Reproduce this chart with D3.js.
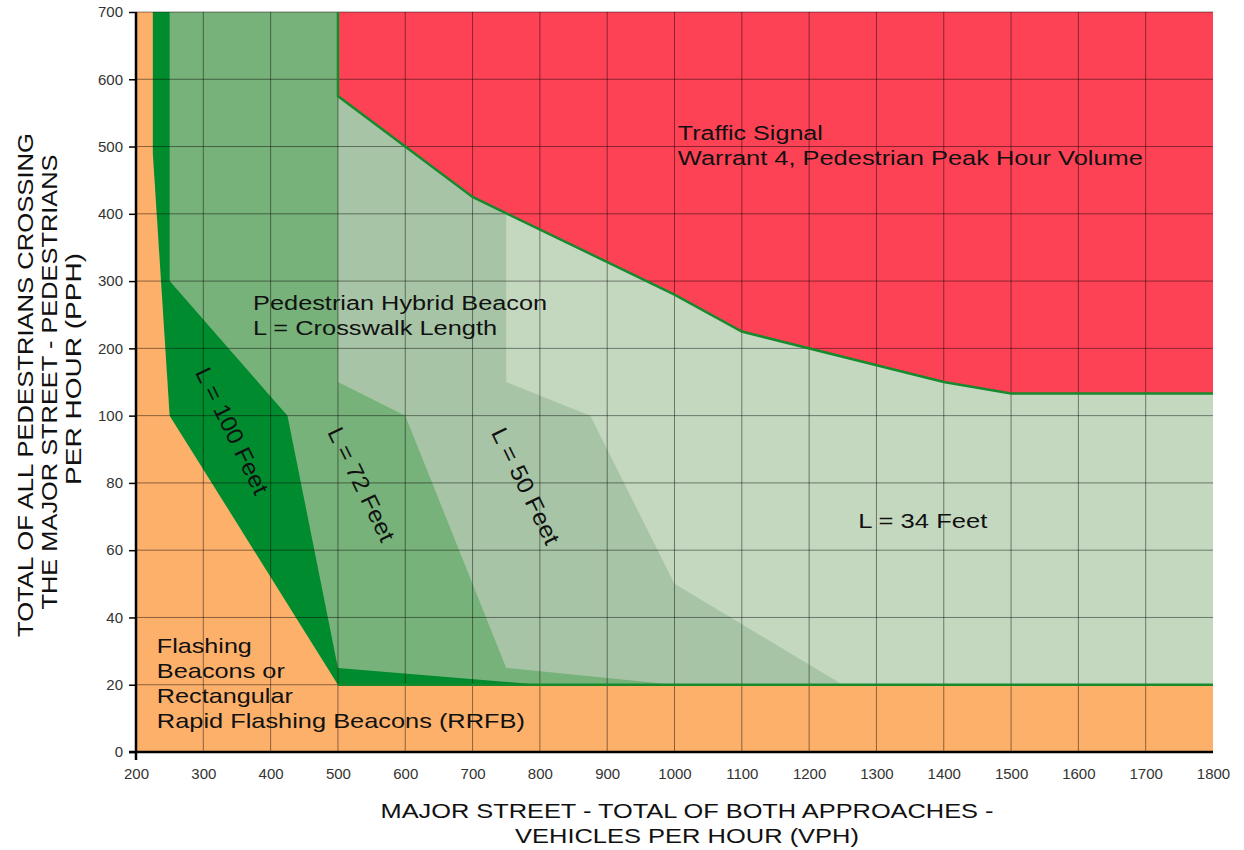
<!DOCTYPE html>
<html>
<head>
<meta charset="utf-8">
<script src="https://cdn.jsdelivr.net/npm/d3@7/dist/d3.min.js"></script>
<style>
  body { margin: 0; background: #fff; }
  svg { display: block; font-family: "Liberation Sans", Arial, sans-serif; }
</style>
</head>
<body>
<div id="chart"></div>
<script>
// Tick values
const vphTicks = [200, 300, 400, 500, 600, 700, 800, 900, 1000, 1100, 1200, 1300, 1400, 1500, 1600, 1700, 1800];
const pphTicks = [0, 20, 40, 60, 80, 100, 200, 300, 400, 500, 600, 700];

// Region outlines as [vph, pph] pairs
const plotArea = [[200, 0], [1800, 0], [1800, 700], [200, 700]];
const feet100 = [[225, 700], [225, 490], [250, 100], [500, 20], [1800, 20], [1800, 700]];
const feet72 = [[250, 700], [250, 300], [425, 100], [500, 25], [800, 20], [1800, 20], [1800, 700]];
const feet50 = [[500, 700], [500, 150], [600, 100], [750, 25], [1000, 20], [1800, 20], [1800, 700]];
const feet34 = [[750, 700], [750, 150], [875, 100], [1000, 50], [1250, 20], [1800, 20], [1800, 700]];
const signalEdge = [[500, 700], [500, 575], [700, 425], [1000, 280], [1100, 225], [1400, 150], [1500, 133], [1800, 133]];
const signalArea = signalEdge.concat([[1800, 700]]);
const minPedLine = [[500, 20], [1800, 20]];

const width = 1244, height = 850;
const margin = { top: 12, right: 31, bottom: 98, left: 136 };

const svg = d3.select("#chart").append("svg")
  .attr("width", width)
  .attr("height", height);

svg.append("rect").attr("width", width).attr("height", height).attr("fill", "#fff");

// x is linear; y is linear in two pieces (0-100 by 20s, 100-700 by 100s)
const x = d3.scaleLinear().domain([200, 1800]).range([margin.left, width - margin.right]);
const step = (height - margin.bottom - margin.top) / 11;
const y = d3.scaleLinear()
  .domain([0, 100, 700])
  .range([height - margin.bottom, height - margin.bottom - 5 * step, margin.top]);

const line = d3.line().x(d => x(d[0])).y(d => y(d[1]));

// Filled regions, back to front
const regions = [
  { pts: plotArea, fill: "#fdb06a" },
  { pts: feet100, fill: "#008b2f" },
  { pts: feet72, fill: "#77b27a" },
  { pts: feet50, fill: "#a7c5a6" },
  { pts: feet34, fill: "#c4d8bf" },
  { pts: signalArea, fill: "#fe4256" }
];

svg.append("g").selectAll("path")
  .data(regions)
  .join("path")
  .attr("d", d => line(d.pts) + "Z")
  .attr("fill", d => d.fill);

// Grid
const grid = svg.append("g").attr("stroke", "#000").attr("stroke-opacity", 0.45).attr("stroke-width", 1);
grid.selectAll("line.v")
  .data(vphTicks.filter(v => v > 200 && v < 1800))
  .join("line")
  .attr("x1", d => x(d)).attr("x2", d => x(d))
  .attr("y1", y(0)).attr("y2", y(700));
grid.selectAll("line.h")
  .data(pphTicks.filter(v => v > 0))
  .join("line")
  .attr("x1", x(200)).attr("x2", x(1800))
  .attr("y1", d => y(d)).attr("y2", d => y(d));

// Green boundary lines
svg.append("path")
  .attr("d", line(signalEdge))
  .attr("fill", "none")
  .attr("stroke", "#168a2c")
  .attr("stroke-width", 2.5);
svg.append("path")
  .attr("d", line(minPedLine))
  .attr("fill", "none")
  .attr("stroke", "#168a2c")
  .attr("stroke-width", 2.5);

// Axes
const yAxis = svg.append("g")
  .attr("transform", `translate(${margin.left},0)`)
  .call(d3.axisLeft(y).tickValues(pphTicks).tickFormat(d3.format("d")).tickSize(7).tickPadding(6));
yAxis.select(".domain").remove();
yAxis.selectAll(".tick line").attr("stroke", "#000").attr("stroke-width", 1.5);
yAxis.selectAll(".tick text").attr("fill", "#333").style("font-size", "15px");

const xAxis = svg.append("g")
  .attr("transform", `translate(0,${height - margin.bottom})`)
  .call(d3.axisBottom(x).tickValues(vphTicks).tickFormat(d3.format("d")).tickSize(0).tickPadding(16));
xAxis.select(".domain").remove();
xAxis.selectAll(".tick text").attr("fill", "#333").style("font-size", "15px");

svg.append("line")
  .attr("x1", x(200)).attr("x2", x(200))
  .attr("y1", y(700)).attr("y2", y(0) + 8)
  .attr("stroke", "#000").attr("stroke-width", 2.5);
svg.append("line")
  .attr("x1", x(200) - 7).attr("x2", x(1800))
  .attr("y1", y(0)).attr("y2", y(0))
  .attr("stroke", "#000").attr("stroke-width", 2.5);

// Horizontal annotations: [vph, pph] anchor of first baseline, lines, stretched widths
function block(vx, vy, lines, lengths, size) {
  const t = svg.append("g").attr("fill", "#111").style("font-size", size + "px");
  lines.forEach((s, i) => {
    t.append("text")
      .attr("x", x(vx))
      .attr("y", y(vy) + i * 25)
      .attr("textLength", lengths[i])
      .attr("lengthAdjust", "spacingAndGlyphs")
      .text(s);
  });
}

block(1005, 510, ["Traffic Signal", "Warrant 4, Pedestrian Peak Hour Volume"], [145, 465], 20);
block(374, 257, ["Pedestrian Hybrid Beacon", "L = Crosswalk Length"], [294, 244], 20);
block(1273, 66.6, ["L = 34 Feet"], [129], 21);
block(231, 29.4, ["Flashing", "Beacons or", "Rectangular", "Rapid Flashing Beacons (RRFB)"], [95, 128, 136, 368], 21);

// Rotated crosswalk length labels
const slanted = [
  { vph: 343, pph: 95.5, text: "L = 100 Feet", len: 138 },
  { vph: 535, pph: 79.6, text: "L = 72 Feet", len: 124 },
  { vph: 779, pph: 79.1, text: "L = 50 Feet", len: 127 }
];
svg.append("g").selectAll("text")
  .data(slanted)
  .join("text")
  .attr("transform", d => `translate(${x(d.vph)},${y(d.pph)}) rotate(64)`)
  .attr("text-anchor", "middle")
  .attr("dy", "0.35em")
  .attr("fill", "#111")
  .attr("textLength", d => d.len)
  .attr("lengthAdjust", "spacingAndGlyphs")
  .style("font-size", "23px")
  .text(d => d.text);

// Axis titles
const yTitle = [
  { text: "TOTAL OF ALL PEDESTRIANS CROSSING", bx: 33, cy: 385, len: 504 },
  { text: "THE MAJOR STREET - PEDESTRIANS", bx: 57, cy: 382, len: 455 },
  { text: "PER HOUR (PPH)", bx: 81, cy: 369, len: 232 }
];
svg.append("g").selectAll("text")
  .data(yTitle)
  .join("text")
  .attr("transform", d => `translate(${d.bx},${d.cy}) rotate(-90)`)
  .attr("text-anchor", "middle")
  .attr("fill", "#111")
  .attr("textLength", d => d.len)
  .attr("lengthAdjust", "spacingAndGlyphs")
  .style("font-size", "22px")
  .text(d => d.text);

const xTitle = [
  { text: "MAJOR STREET - TOTAL OF BOTH APPROACHES -", by: 818, len: 613 },
  { text: "VEHICLES PER HOUR (VPH)", by: 843, len: 344 }
];
svg.append("g").selectAll("text")
  .data(xTitle)
  .join("text")
  .attr("x", 687)
  .attr("y", d => d.by)
  .attr("text-anchor", "middle")
  .attr("fill", "#111")
  .attr("textLength", d => d.len)
  .attr("lengthAdjust", "spacingAndGlyphs")
  .style("font-size", "21px")
  .text(d => d.text);
</script>
</body>
</html>
